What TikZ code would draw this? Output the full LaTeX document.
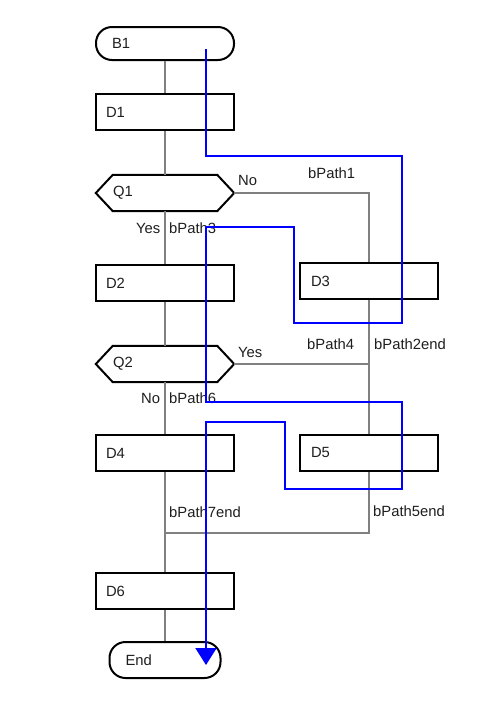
\documentclass[tikz,border=0pt]{standalone}
\usepackage{fontspec}
\setmainfont{Liberation Sans}
\usetikzlibrary{calc,arrows.meta}
\definecolor{conn}{RGB}{128,128,128}
\definecolor{bpath}{RGB}{0,0,255}
\definecolor{txt}{RGB}{30,30,30}
\begin{document}
\begin{tikzpicture}[x=1pt,y=-1pt,
  every node/.style={font=\fontsize{14.8}{17}\selectfont,text=txt},
  boxline/.style={draw=black,line width=2pt},
  procbox/.style={boxline,fill=white,rectangle,minimum height=36pt,inner ysep=0pt,
     inner xsep=10pt,text width=118pt,align=left},
  termbox/.style={boxline,fill=white,rectangle,rounded corners=16pt,inner ysep=0pt,
     inner xsep=16pt,align=left},
  hexbox/.style={rectangle,minimum height=36pt,inner ysep=0pt,inner xsep=17pt,
     text width=104pt,align=left},
  lbl/.style={anchor=base west,inner sep=0pt},
  connline/.style={draw=conn,line width=1.6pt},
  bline/.style={draw=bpath,line width=1.8pt,-{Triangle[length=17pt,width=21pt]}}
]
\useasboundingbox (0,0) rectangle (480,705);
% nodes
\node[termbox,minimum height=33pt,text width=106pt] (b1) at (165,43.5) {B1};
\node[procbox] (d1) at (165,112) {D1};
\node[hexbox] (q1) at (165,193) {Q1};
\node[procbox] (d2) at (165,283) {D2};
\node[procbox,inner xsep=11pt,text width=116pt] (d3) at (369,281) {D3};
\node[hexbox] (q2) at (165,364) {Q2};
\node[procbox] (d4) at (165,453) {D4};
\node[procbox,inner xsep=11pt,text width=116pt] (d5) at (369,452.5) {D5};
\node[procbox] (d6) at (165,591) {D6};
\node[termbox,minimum height=36pt,text width=79pt] (end) at (165,660) {End};
% hexagon outlines
\foreach \q in {q1,q2}{
  \draw[boxline,line join=miter] (\q.west) -- ($(\q.north west)+(17,0)$) -- ($(\q.north east)+(-17,0)$)
    -- (\q.east) -- ($(\q.south east)+(-17,0)$) -- ($(\q.south west)+(17,0)$) -- cycle;
}
% connectors
\coordinate (j2) at (d3.south |- q2.east);
\coordinate (j7) at (165,533);
\draw[connline] (b1) -- (d1);
\draw[connline] (d1) -- (q1);
\draw[connline] (q1) -- (d2);
\draw[connline] (d2) -- (q2);
\draw[connline] (q2) -- (d4);
\draw[connline] (d4) -- (d6);
\draw[connline] (d6) -- (end);
\draw[connline] (q1.east) -| (d3.north);
\draw[connline] (d3.south) -- (d5.north);
\draw[connline] (q2.east) -- (j2);
\draw[connline] (d5.south) |- (j7);
% labels
\node[lbl] (lno1) at (238,185) {No};
\node[lbl] (lbp1) at (308,178) {bPath1};
\node[lbl] (lyes1) at (136,233) {Yes};
\node[lbl] (lbp3) at (169,233) {bPath3};
\node[lbl] (lbp4) at (307,349) {bPath4};
\node[lbl] (lbp2) at (374,349) {bPath2end};
\node[lbl] (lyes2) at (238,357) {Yes};
\node[lbl] (lno2) at (141,403) {No};
\node[lbl] (lbp6) at (169,403) {bPath6};
\node[lbl] (lbp5) at (373,516) {bPath5end};
\node[lbl] (lbp7) at (169,517) {bPath7end};
% blue path
\coordinate (bs) at (206,49);
\coordinate (be) at (206,665);
\draw[bline] (bs) -- (206,156) -- (402,156) -- (402,323) -- (294,323) -- (294,227)
  -- (206,227) -- (206,402) -- (402,402) -- (402,489) -- (285,489) -- (285,422)
  -- (206,422) -- (be);
\end{tikzpicture}
\end{document}
